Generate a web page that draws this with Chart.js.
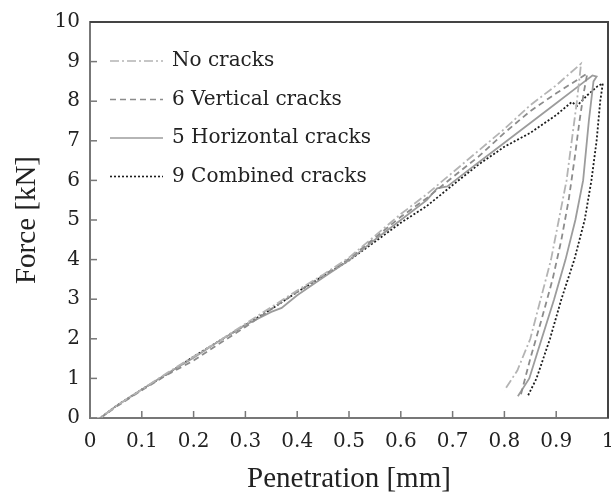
<!DOCTYPE html>
<html lang="en">
<head>
<meta charset="utf-8" />
<title>Force vs penetration</title>
<script src="https://cdn.jsdelivr.net/npm/chart.js@4.4"></script>
<style>
  html,body{margin:0;padding:0;background:#fff;}
  #wrap{width:611px;height:497px;position:relative;}
</style>
</head>
<body>
<div id="wrap"><canvas id="c"></canvas></div>
<script>
/***** ---------- Data ---------- *****/
const LABELS=['No cracks','6 Vertical cracks','5 Horizontal cracks','9 Combined cracks'];
const X_TICKS=[0,0.1,0.2,0.3,0.4,0.5,0.6,0.7,0.8,0.9,1];
const Y_TICKS=[0,1,2,3,4,5,6,7,8,9,10];

// no cracks: loading then unloading
const noX=[0,0.02,0.05,0.1,0.15,0.2,0.25,0.3,0.35,0.4,0.45,0.5,0.55,0.6,0.65,0.7,0.75,0.8,0.85,0.9,0.948,
           0.94,0.93,0.92,0.905,0.89,0.87,0.85,0.825,0.80];
const noY=[0,0,0.3,0.72,1.15,1.55,1.95,2.38,2.8,3.22,3.62,4.05,4.6,5.15,5.65,6.2,6.75,7.3,7.9,8.4,8.95,
           8.0,7.0,6.0,5.0,4.0,3.0,2.0,1.2,0.7];
// 6 vertical cracks
const verX=[0,0.02,0.05,0.1,0.15,0.2,0.25,0.3,0.35,0.4,0.45,0.5,0.55,0.6,0.65,0.7,0.75,0.8,0.85,0.9,0.96,
            0.953,0.945,0.935,0.924,0.91,0.893,0.872,0.85,0.832];
const verY=[0,0,0.28,0.7,1.1,1.45,1.88,2.3,2.75,3.18,3.6,4.02,4.55,5.08,5.55,6.08,6.6,7.2,7.75,8.2,8.7,
            8.2,7.5,6.5,5.5,4.5,3.5,2.5,1.5,0.6];
// 5 horizontal cracks
const horX=[0,0.02,0.05,0.1,0.15,0.2,0.25,0.3,0.35,0.37,0.4,0.45,0.5,0.55,0.6,0.65,0.67,0.69,0.7,0.75,0.8,0.85,0.9,0.95,0.97,0.978,0.972,
            0.963,0.952,0.937,0.918,0.896,0.872,0.848,0.826];
const horY=[0,0,0.3,0.72,1.13,1.52,1.95,2.35,2.68,2.78,3.1,3.55,3.98,4.5,5.0,5.5,5.8,5.85,5.95,6.45,6.95,7.45,7.95,8.45,8.65,8.62,8.5,
            7.5,6.0,5.0,4.0,3.0,2.0,1.0,0.55];
// 9 combined cracks
const comX=[0,0.02,0.05,0.1,0.15,0.2,0.25,0.3,0.35,0.4,0.45,0.5,0.55,0.6,0.65,0.7,0.75,0.8,0.85,0.9,0.93,0.94,0.96,0.98,0.99,
            0.985,0.978,0.968,0.955,0.935,0.91,0.888,0.862,0.845];
const comY=[0,0,0.3,0.72,1.12,1.55,1.95,2.35,2.75,3.18,3.58,3.98,4.45,4.93,5.35,5.88,6.4,6.85,7.2,7.65,7.98,7.88,8.15,8.38,8.45,
            8.0,7.0,6.0,5.0,4.0,3.0,2.0,1.0,0.55];

/***** ---------- Styles ---------- *****/
const SERIF='"DejaVu Serif",serif';
const TITLE_FONT='"Liberation Serif","Times New Roman",serif';
const COLORS=['#b4b4b4','#8c8c8c','#9c9c9c','#1c1c1c'];
const DASHES=[[9,3,2,3],[6,4],[],[2,2]];

const pts=(xs,ys)=>xs.map((x,i)=>({x,y:ys[i]}));
const series=[pts(noX,noY),pts(verX,verY),pts(horX,horY),pts(comX,comY)];

/***** ---------- Plugins ---------- *****/
const frame={
  id:'frame',
  afterDraw(chart){
    const {ctx,chartArea:a,scales:{x,y}}=chart;
    ctx.save();
    // inward tick marks
    ctx.strokeStyle='#777';ctx.lineWidth=1.5;
    X_TICKS.forEach(v=>{const px=x.getPixelForValue(v);ctx.beginPath();ctx.moveTo(px,a.bottom);ctx.lineTo(px,a.bottom-7);ctx.stroke();});
    Y_TICKS.forEach(v=>{const py=y.getPixelForValue(v);ctx.beginPath();ctx.moveTo(a.left,py);ctx.lineTo(a.left+7,py);ctx.stroke();});
    // top and right border
    ctx.strokeStyle='#444';ctx.lineWidth=2;
    ctx.beginPath();ctx.moveTo(a.left,a.top);ctx.lineTo(a.right,a.top);ctx.lineTo(a.right,a.bottom);ctx.stroke();
    // legend inside plot
    ctx.font='20px '+SERIF;ctx.textBaseline='middle';ctx.fillStyle='#222';
    LABELS.forEach((lab,i)=>{
      const yy=a.top+39+i*38.5;
      ctx.strokeStyle=COLORS[i];ctx.lineWidth=1.6;ctx.setLineDash(DASHES[i]);
      ctx.beginPath();ctx.moveTo(a.left+20,yy);ctx.lineTo(a.left+73,yy);ctx.stroke();
      ctx.setLineDash([]);
      ctx.fillText(lab,a.left+82,yy);
    });
    ctx.restore();
  }
};

/***** ---------- Chart ---------- *****/
new Chart(document.getElementById('c'),{
  type:'scatter',
  data:{datasets:series.map((d,i)=>({
    label:LABELS[i],data:d,showLine:true,borderColor:COLORS[i],borderWidth:1.8,
    borderDash:DASHES[i],pointRadius:0,tension:0,fill:false
  }))},
  options:{
    responsive:true,maintainAspectRatio:false,animation:false,
    layout:{padding:{top:18,right:3,left:0,bottom:0}},
    plugins:{legend:{display:false},tooltip:{enabled:false}},
    scales:{
      x:{min:0,max:1,
        afterBuildTicks:s=>{s.ticks=X_TICKS.map(v=>({value:v}));},
        afterFit:s=>{s.height=79;s.paddingLeft=0;s.paddingRight=0;},
        grid:{display:false,drawTicks:false},border:{color:'#777',width:2},
        ticks:{color:'#222',font:{family:SERIF,size:20},padding:12,maxRotation:0,
          callback:v=>(v===0||v===1)?String(v):v.toFixed(1)},
        title:{display:true,text:'Penetration [mm]',color:'#222',font:{family:TITLE_FONT,size:29},padding:{top:0,bottom:0}}
      },
      y:{min:0,max:10,
        afterBuildTicks:s=>{s.ticks=Y_TICKS.map(v=>({value:v}));},
        afterFit:s=>{s.width=90;},
        grid:{display:false,drawTicks:false},border:{color:'#777',width:2},
        ticks:{color:'#222',font:{family:SERIF,size:20},padding:10},
        title:{display:true,text:'Force [kN]',color:'#222',font:{family:TITLE_FONT,size:29},padding:{top:10,bottom:0}}
      }
    }
  },
  plugins:[frame]
});
</script>
</body>
</html>
